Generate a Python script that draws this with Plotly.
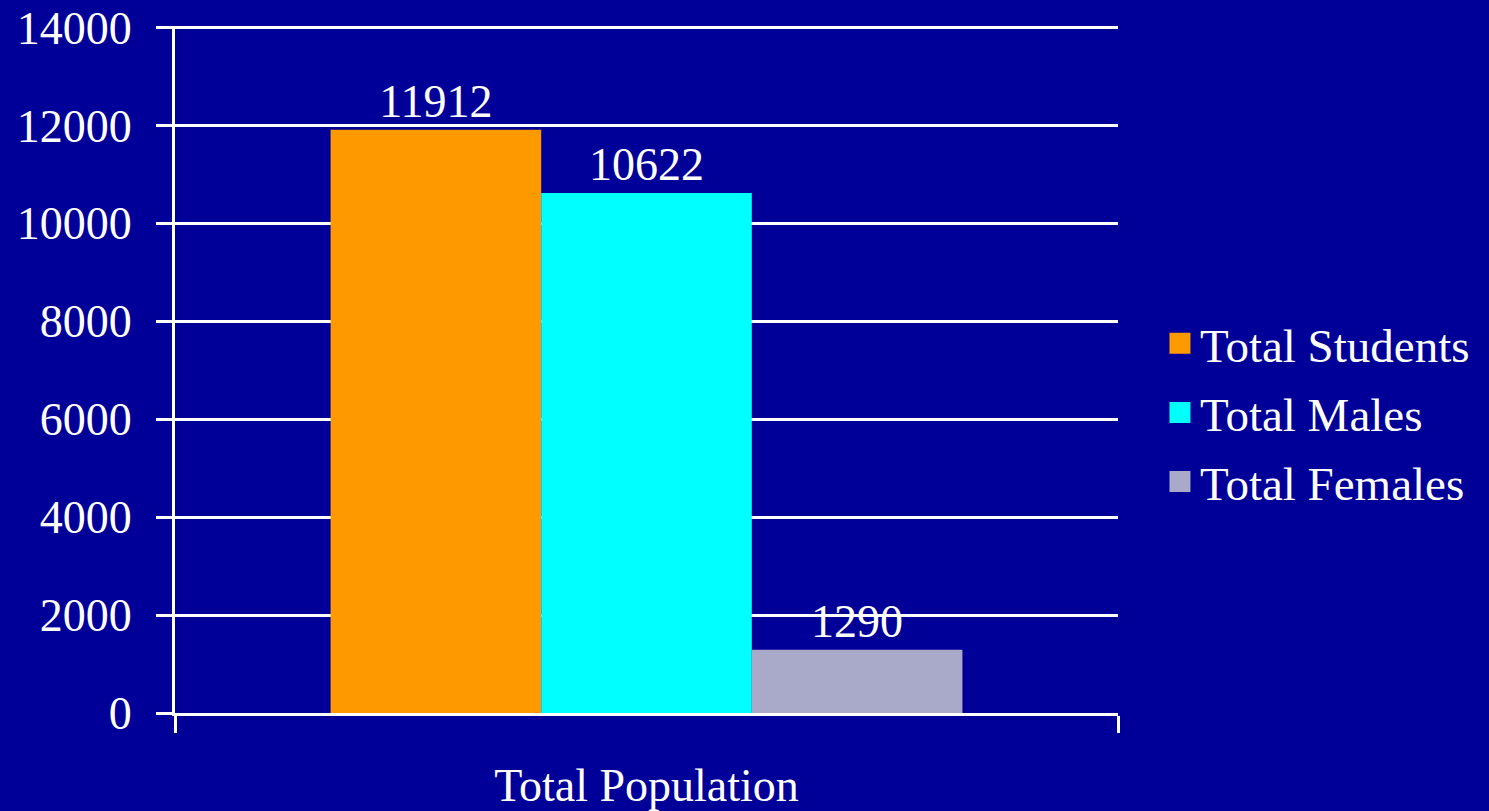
import plotly.graph_objects as go

categories = ["Total Population"]
series_names = ["Total Students", "Total Males", "Total Females"]
series_values = [[11912], [10622], [1290]]
series_colors = ["#FF9900", "#00FFFF", "#A9A9C9"]
y_ticks = [0, 2000, 4000, 6000, 8000, 10000, 12000, 14000]
y_tick_labels = ["0", "2000", "4000", "6000", "8000", "10000", "12000", "14000"]

BG = "#000099"
FONT = "Liberation Serif"

fig = go.Figure()
for name, vals, col in zip(series_names, series_values, series_colors):
    fig.add_trace(go.Bar(
        x=categories, y=vals, name=name, showlegend=False,
        marker=dict(color=col, line=dict(width=0)),
        text=[str(v) for v in vals], textposition="outside",
        textfont=dict(family=FONT, size=46, color="white"),
        cliponaxis=False,
    ))
# legend entries with larger square swatches
for name, col in zip(series_names, series_colors):
    fig.add_trace(go.Scatter(
        x=[None], y=[None], mode="markers", name=name, legendgroup=name,
        marker=dict(symbol="square", size=16, color=col, line=dict(color=col, width=5)),
        showlegend=True, hoverinfo="skip",
    ))

fig.update_layout(
    width=1489, height=811,
    paper_bgcolor=BG, plot_bgcolor=BG,
    font=dict(family=FONT, size=46, color="white"),
    margin=dict(l=175, r=371, t=26, b=98, autoexpand=False),
    barmode="group", bargap=0.33, bargroupgap=0,
    legend=dict(x=1.0445, y=0.437, xanchor="left", yanchor="middle",
                font=dict(family=FONT, size=47, color="white"),
                bgcolor="rgba(0,0,0,0)", itemsizing="trace", tracegroupgap=5),
    showlegend=True,
)
fig.update_xaxes(
    type="category", showline=True, linecolor="white", linewidth=3,
    ticks="outside", tickson="boundaries", ticklen=17, tickwidth=3, tickcolor="white",
    showgrid=False, tickfont=dict(family=FONT, size=46, color="white"),
    automargin=False, ticklabelstandoff=30,
)
fig.update_yaxes(
    range=[0, 14030], tickvals=y_ticks, ticktext=y_tick_labels,
    showline=True, linecolor="white", linewidth=3,
    ticks="outside", ticklen=16, tickwidth=3, tickcolor="white",
    showgrid=True, gridcolor="white", gridwidth=3, zeroline=False,
    tickfont=dict(family=FONT, size=46, color="white"), ticklabelstandoff=15,
    automargin=False,
)
fig.write_html("out.html", config={"displayModeBar": False},
               post_script="document.body.style.margin='0';document.body.style.overflow='hidden';")
